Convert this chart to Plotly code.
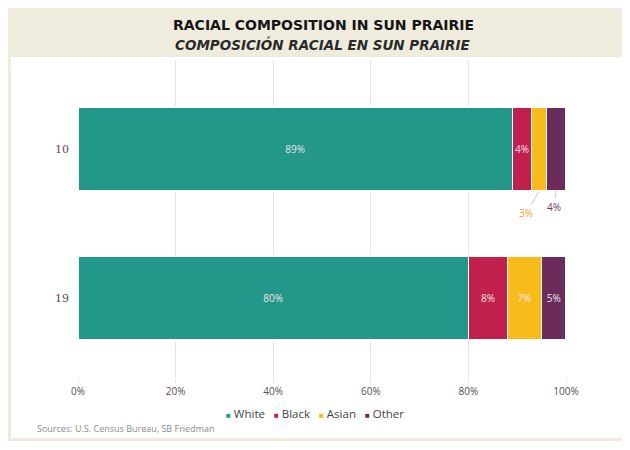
import plotly.graph_objects as go

years = ["10", "19"]
races = ["White", "Black", "Asian", "Other"]
white = [89, 80]
black = [4, 8]
asian = [3, 7]
other = [4, 5]
colors = ["#22978A", "#C11F4C", "#F7BC1B", "#6B2B5B"]
x_ticks = [0, 20, 40, 60, 80, 100]

series = [white, black, asian, other]

W, H = 630, 450
OFF = 8  # page body margin shifts the figure on screen
L, R, T, B = 70, 72, 52, 80


def px_x(p):
    return (p - OFF - L) / (W - L - R)


def px_y(p):
    return (H - B - (p - OFF)) / (H - T - B)


fig = go.Figure()
for name, vals, col in zip(races, series, colors):
    # small 2010 slices get outside labels instead
    txt = []
    for i, v in enumerate(vals):
        if i == 0 and name in ("Asian", "Other"):
            txt.append("")
        else:
            txt.append(f"{v}%")
    fig.add_trace(go.Bar(
        y=years, x=vals, name=name, orientation="h",
        marker=dict(color=col, line=dict(color="white", width=1.2)),
        text=txt, textposition="inside", insidetextanchor="middle",
        textangle=0, constraintext="none",
        textfont=dict(color="#F4E2E7", size=10, family="Open Sans"),
        hoverinfo="skip", showlegend=False,
    ))

# leader-line labels for the small 2010 slices
cum = 0
starts = []
for vals in series:
    starts.append(cum)
    cum += vals[0]
ann = []
for idx, dx, dy, col in [(2, -13, 22, "#F0A32A"), (3, -2, 16, "#5E4060")]:
    mid = starts[idx] + series[idx][0] / 2
    ann.append(dict(
        x=mid, y=0.282, xref="x", yref="y", text=f"{series[idx][0]}%",
        showarrow=True, arrowhead=0, arrowwidth=0.8, arrowcolor="#BBBBBB",
        ax=dx, ay=dy, font=dict(color=col, size=10, family="Open Sans"),
    ))


def label(x, y, text, font, xanchor="center"):
    ann.append(dict(
        x=px_x(x), y=px_y(y), xref="paper", yref="paper",
        xanchor=xanchor, yanchor="middle", text=text, showarrow=False, font=font,
    ))


label(323, 25, "<b>RACIAL COMPOSITION IN SUN PRAIRIE</b>",
      dict(size=14, color="#151515", family="DejaVu Sans"))
label(323, 44, "<b><i>COMPOSICIÓN RACIAL EN SUN PRAIRIE</i></b>",
      dict(size=13.5, color="#2A2A2A", family="DejaVu Sans"))
label(35, 428, "Sources: U.S. Census Bureau, SB Friedman",
      dict(size=9, color="#8A8A8A", family="Open Sans"), xanchor="left")

# legend drawn as one text line
leg = "   ".join(
    f"<span style='color:{c};font-size:8px'>■</span> {n}" for n, c in zip(races, colors)
)
label(315, 413, leg, dict(size=11.5, color="#444444", family="Open Sans"))

shapes = [
    dict(type="rect", xref="paper", yref="paper", layer="below",
         x0=px_x(8), x1=px_x(628), y0=px_y(441), y1=px_y(7),
         fillcolor="#EFECDD", line=dict(width=0)),
    dict(type="rect", xref="paper", yref="paper", layer="below",
         x0=px_x(11), x1=px_x(625), y0=px_y(438), y1=px_y(57),
         fillcolor="white", line=dict(width=0)),
]

fig.update_layout(
    width=W, height=H,
    margin=dict(l=L, r=R, t=T, b=B),
    barmode="stack", bargap=0.436,
    paper_bgcolor="white", plot_bgcolor="rgba(0,0,0,0)",
    showlegend=False,
    annotations=ann, shapes=shapes,
    xaxis=dict(range=[0, 100], tickvals=x_ticks, ticktext=[f"{t}%" for t in x_ticks],
               showgrid=True, gridcolor="#E6E6E6", gridwidth=1, zeroline=False,
               ticks="outside", ticklen=4, tickcolor="#E6E6E6", ticklabelstandoff=0,
               tickfont=dict(size=10, color="#5A4A5C", family="Open Sans")),
    yaxis=dict(categoryorder="array", categoryarray=years,
               range=[1.537, -0.597], showgrid=False, zeroline=False,
               ticks="", ticklabelstandoff=8,
               tickfont=dict(size=11, color="#5A4A5C", family="DejaVu Serif")),
)

fig.write_html("out.html")
